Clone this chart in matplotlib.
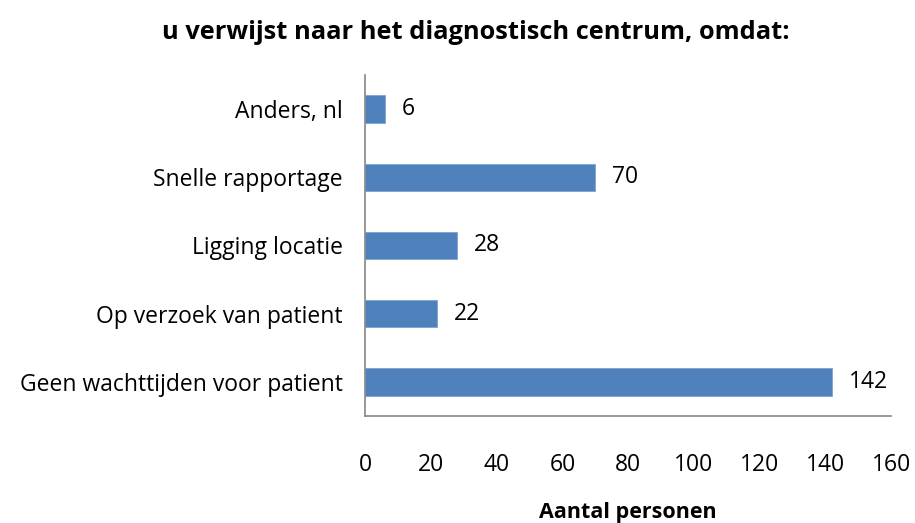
import matplotlib
matplotlib.use("Agg")
import matplotlib.pyplot as plt

# ==== DATA ====
categories = ["Geen wachttijden voor patient", "Op verzoek van patient",
              "Ligging locatie", "Snelle rapportage", "Anders, nl"]
counts = [142, 22, 28, 70, 6]
xticks = [0, 20, 40, 60, 80, 100, 120, 140, 160]

plt.rcParams['font.family'] = ['Open Sans', 'DejaVu Sans']

fig = plt.figure(figsize=(9.15, 5.23), dpi=100)
ax = fig.add_axes([0.399, 0.2046, 0.575, 0.652])

y = range(len(categories))
ax.barh(y, counts, height=0.4, color="#4F81BD", edgecolor="#7FA3D3", linewidth=0.6)
for yi, v in zip(y, counts):
    ax.annotate(str(v), (v, yi), xytext=(12, 0), textcoords="offset points",
                va="center", ha="left", fontsize=16.5)

ax.set_xlim(0, 160)
ax.set_ylim(-0.5, 4.5)
ax.set_xticks(xticks)
ax.set_xticklabels([str(t) for t in xticks], fontsize=16.5)
ax.set_yticks(list(y))
ax.set_yticklabels(categories, fontsize=16.5)
ax.tick_params(axis="x", length=0, pad=27)
ax.tick_params(axis="y", length=0, pad=16)

for side in ("top", "right"):
    ax.spines[side].set_visible(False)
for side in ("left", "bottom"):
    ax.spines[side].set_color("#868686")
    ax.spines[side].set_linewidth(1.2)

ax.set_xlabel("Aantal personen", fontsize=15.5, fontweight="bold", labelpad=18)
fig.suptitle("u verwijst naar het diagnostisch centrum, omdat:",
             fontsize=18.3, fontweight="bold", x=0.52, y=0.937, va="center")

fig.savefig("out.png", dpi=100)
